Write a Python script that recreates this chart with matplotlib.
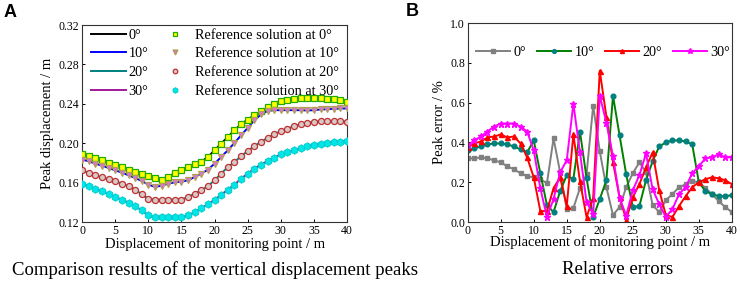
import numpy as np
import matplotlib
matplotlib.use("Agg")
import matplotlib.pyplot as plt

plt.rcParams['font.family'] = ['Liberation Serif', 'DejaVu Serif']

x = list(range(0, 41))

# Panel A: peak displacement (m)
disp_0 = [0.1888, 0.1875, 0.1854, 0.1827, 0.1803, 0.1780, 0.1759, 0.1732, 0.1712, 0.1692,
          0.1664, 0.1647, 0.1631, 0.1658, 0.1698, 0.1725, 0.1759, 0.1786, 0.1814, 0.1861,
          0.1929, 0.1997, 0.2064, 0.2132, 0.2193, 0.2241, 0.2285, 0.2325, 0.2363, 0.2403,
          0.2431, 0.2444, 0.2451, 0.2458, 0.2464, 0.2464, 0.2461, 0.2454, 0.2447, 0.2437, 0.2414]
disp_10 = [0.1834, 0.1817, 0.1793, 0.1773, 0.1749, 0.1725, 0.1702, 0.1675, 0.1647, 0.1617,
           0.1580, 0.1556, 0.1570, 0.1590, 0.1603, 0.1610, 0.1624, 0.1658, 0.1692, 0.1732,
           0.1793, 0.1861, 0.1929, 0.2003, 0.2081, 0.2156, 0.2234, 0.2292, 0.2329, 0.2336,
           0.2336, 0.2336, 0.2336, 0.2336, 0.2333, 0.2336, 0.2343, 0.2346, 0.2350, 0.2353, 0.2353]
disp_20 = [0.1725, 0.1698, 0.1675, 0.1654, 0.1634, 0.1614, 0.1590, 0.1566, 0.1530, 0.1480,
           0.1434, 0.1427, 0.1427, 0.1427, 0.1427, 0.1427, 0.1454, 0.1488, 0.1522, 0.1566,
           0.1624, 0.1692, 0.1759, 0.1810, 0.1868, 0.1922, 0.1969, 0.2014, 0.2054, 0.2092,
           0.2122, 0.2149, 0.2173, 0.2193, 0.2207, 0.2217, 0.2224, 0.2227, 0.2227, 0.2224, 0.2220]
disp_30 = [0.1586, 0.1563, 0.1539, 0.1515, 0.1488, 0.1454, 0.1427, 0.1397, 0.1359, 0.1319,
           0.1268, 0.1247, 0.1247, 0.1247, 0.1247, 0.1247, 0.1268, 0.1300, 0.1342, 0.1380,
           0.1427, 0.1478, 0.1529, 0.1580, 0.1641, 0.1692, 0.1742, 0.1783, 0.1820, 0.1854,
           0.1888, 0.1912, 0.1932, 0.1949, 0.1969, 0.1983, 0.1997, 0.2007, 0.2014, 0.2017, 0.2020]

# Panel B: peak error (%)
err_0 = [0.32, 0.32, 0.325, 0.32, 0.31, 0.30, 0.28, 0.265, 0.245, 0.23,
         0.225, 0.215, 0.195, 0.42, 0.25, 0.065, 0.07, 0.17, 0.24, 0.585,
         0.355, 0.175, 0.035, 0.075, 0.175, 0.245, 0.30, 0.25, 0.085, 0.05,
         0.11, 0.14, 0.175, 0.19, 0.205, 0.20, 0.17, 0.14, 0.105, 0.075, 0.05]
err_10 = [0.36, 0.37, 0.38, 0.39, 0.395, 0.395, 0.39, 0.38, 0.365, 0.35,
          0.41, 0.245, 0.085, 0.05, 0.155, 0.235, 0.215, 0.455, 0.22, 0.025,
          0.115, 0.21, 0.635, 0.435, 0.24, 0.075, 0.08, 0.21, 0.305, 0.38,
          0.40, 0.41, 0.41, 0.405, 0.39, 0.20, 0.155, 0.14, 0.13, 0.13, 0.135]
err_20 = [0.375, 0.395, 0.405, 0.425, 0.43, 0.44, 0.425, 0.43, 0.395, 0.325,
          0.225, 0.055, 0.055, 0.17, 0.225, 0.08, 0.44, 0.205, 0.025, 0.12,
          0.76, 0.53, 0.30, 0.125, 0.012, 0.125, 0.19, 0.275, 0.35, 0.16,
          0.035, 0.025, 0.08, 0.13, 0.175, 0.20, 0.215, 0.225, 0.22, 0.21, 0.19]
err_30 = [0.385, 0.41, 0.43, 0.455, 0.48, 0.495, 0.495, 0.495, 0.48, 0.455,
          0.36, 0.17, 0.025, 0.115, 0.25, 0.31, 0.595, 0.35, 0.10, 0.04,
          0.635, 0.50, 0.33, 0.12, 0.032, 0.16, 0.235, 0.345, 0.165, 0.09,
          0.025, 0.065, 0.14, 0.175, 0.245, 0.28, 0.32, 0.325, 0.34, 0.325, 0.325]

angle_labels = ['0°', '10°', '20°', '30°']
ref_labels = ['Reference solution at 0°', 'Reference solution at 10°',
              'Reference solution at 20°', 'Reference solution at 30°']

fig = plt.figure(figsize=(7.4, 2.85), dpi=100)
axA = fig.add_axes([0.111, 0.221, 0.358, 0.691])
axB = fig.add_axes([0.632, 0.221, 0.357, 0.698])

# ---- Panel A
line_cols = ['#000000', '#0000ff', '#008080', '#a0189a']
ref_styles = [
    dict(marker='s', mfc='#ffff00', mec='#22aa00', ms=4.2, mew=0.9),
    dict(marker='v', mfc='#e070e0', mec='#b0a050', ms=4.8, mew=0.9),
    dict(marker='o', mfc='#d8c8c8', mec='#c03030', ms=4.4, mew=0.9),
    dict(marker='h', mfc='#00e5e5', mec='#00c8c8', ms=5.4, mew=0.6),
]
series_A = [disp_0, disp_10, disp_20, disp_30]
lh, rh = [], []
for ys, c, lab in zip(series_A, line_cols, angle_labels):
    h, = axA.plot(x, ys, color=c, lw=1.4, label=lab, zorder=2)
    lh.append(h)
for ys, st, lab in zip(series_A, ref_styles, ref_labels):
    h, = axA.plot(x, ys, ls='none', label=lab, zorder=3, **st)
    rh.append(h)
axA.set_xlim(0, 40)
axA.set_ylim(0.12, 0.32)
axA.set_xticks(range(0, 41, 5))
axA.set_yticks([0.12, 0.16, 0.20, 0.24, 0.28, 0.32])
axA.set_yticklabels(['0.12', '0.16', '0.20', '0.24', '0.28', '0.32'])
axA.set_xlabel('Displacement of monitoring point / m', fontsize=10.5, labelpad=0)
axA.set_ylabel('Peak displacement / m', fontsize=10.5, labelpad=3)
axA.legend(lh + rh, angle_labels + ref_labels, ncol=2, frameon=False,
           loc='upper left', bbox_to_anchor=(0.0, 1.025), fontsize=10.3,
           handlelength=2.5, handletextpad=0.15, columnspacing=0.6,
           labelspacing=0.4, borderaxespad=0.2, markerscale=0.75)

# ---- Panel B
b_styles = [
    dict(color='#808080', marker='s', mfc='#808080', mec='#808080', ms=3.2),
    dict(color='#008000', marker='o', mfc='#008080', mec='#008080', ms=3.4),
    dict(color='#ff0000', marker='^', mfc='#ff0000', mec='#ff0000', ms=3.6),
    dict(color='#ff00ff', marker='*', mfc='#ff00ff', mec='#ff00ff', ms=5.0),
]
series_B = [err_0, err_10, err_20, err_30]
for ys, st, lab in zip(series_B, b_styles, angle_labels):
    axB.plot(x, ys, lw=1.4, label=lab, **st)
axB.set_xlim(0, 40)
axB.set_ylim(0, 1.0)
axB.set_xticks(range(0, 41, 5))
axB.set_yticks([0, 0.2, 0.4, 0.6, 0.8, 1.0])
axB.set_yticklabels(['0.0', '0.2', '0.4', '0.6', '0.8', '1.0'])
axB.set_xlabel('Displacement of monitoring point / m', fontsize=10.5, labelpad=-1)
axB.set_ylabel('Peak error / %', fontsize=10.5, labelpad=3)
axB.legend(ncol=4, frameon=False, loc='upper left', bbox_to_anchor=(0.0, 0.93),
           fontsize=10.2, handlelength=2.4, handletextpad=0.25, columnspacing=0.75,
           borderaxespad=0.2, markerscale=0.8)

for ax in (axA, axB):
    ax.tick_params(direction='in', length=2.5, width=0.7, labelsize=8.5, pad=2)
    for s in ax.spines.values():
        s.set_linewidth(0.8)
        s.set_color('#333333')

fig.text(0.005, 0.955, 'A', fontsize=13, fontweight='bold', family='Liberation Sans',
         ha='left', va='center')
fig.text(0.548, 0.96, 'B', fontsize=13, fontweight='bold', family='Liberation Sans',
         ha='left', va='center')
fig.text(0.29, 0.053, 'Comparison results of the vertical displacement peaks', fontsize=13.5,
         ha='center', va='center')
fig.text(0.834, 0.053, 'Relative errors', fontsize=13.5, ha='center', va='center')

fig.savefig('out.png', dpi=100)
